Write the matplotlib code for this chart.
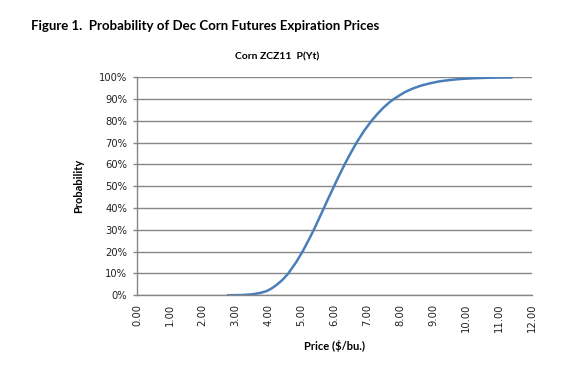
import matplotlib

matplotlib.use("Agg")

import matplotlib.pyplot as plt
from matplotlib.ticker import FuncFormatter

# values
price = [2.74, 3.20, 3.53, 3.75, 3.94, 4.10, 4.25, 4.42, 4.60, 4.85, 5.04,
         5.26, 5.41, 5.61, 5.81, 5.92, 6.10, 6.33, 6.50, 6.68, 6.90, 7.13,
         7.30, 7.49, 7.70, 7.89, 8.15, 8.40, 8.65, 8.91, 9.20, 9.51, 9.85,
         10.22, 10.80, 11.42]
prob = [0.0001, 0.0012, 0.005, 0.011, 0.019, 0.032, 0.048, 0.070, 0.100,
        0.154, 0.202, 0.265, 0.311, 0.376, 0.442, 0.477, 0.535, 0.605,
        0.653, 0.701, 0.753, 0.800, 0.830, 0.860, 0.888, 0.908, 0.932,
        0.949, 0.962, 0.972, 0.981, 0.987, 0.992, 0.995, 0.998, 0.999]

x_ticks = [i * 1.0 for i in range(13)]
y_ticks = [i / 10 for i in range(11)]

grey = "#868686"
line_blue = "#4a7ebb"

fig = plt.figure(figsize=(5.85, 3.84), dpi=100)
ax = fig.add_axes([0.234, 0.231, 0.675, 0.568])

ax.plot(price, prob, color=line_blue, linewidth=1.8, solid_joinstyle="round",
        solid_capstyle="butt")

ax.set_xlim(0, 12)
ax.set_ylim(0, 1)
ax.set_xticks(x_ticks)
ax.set_yticks(y_ticks)
ax.xaxis.set_major_formatter(FuncFormatter(lambda v, _: f"{v:.2f}"))
ax.yaxis.set_major_formatter(FuncFormatter(lambda v, _: f"{v:.0%}"))
ax.tick_params(axis="x", length=0, pad=6, labelrotation=90, labelsize=7.2,
               labelcolor="#222222")
ax.tick_params(axis="y", length=3, width=1, color=grey, pad=4, labelsize=7.2,
               labelcolor="#222222")
for label in ax.get_xticklabels() + ax.get_yticklabels():
    label.set_family("DejaVu Sans")

ax.grid(axis="y", color=grey, linewidth=1)
ax.set_axisbelow(True)
for side in ("top", "right"):
    ax.spines[side].set_visible(False)
for side in ("left", "bottom"):
    ax.spines[side].set_color(grey)
    ax.spines[side].set_linewidth(1)

ax.set_xlabel("Price ($/bu.)", fontsize=8, fontweight="bold", family="Lato",
              labelpad=6)
ax.set_ylabel("Probability", fontsize=8, fontweight="bold", family="Lato",
              labelpad=11)

fig.text(0.053, 0.932, "Figure 1.  Probability of Dec Corn Futures Expiration Prices",
         fontsize=9.5, fontweight="bold", family="Lato", va="center")
fig.text(0.474, 0.851, "Corn ZCZ11  P(Yt)", fontsize=7.5, fontweight="bold",
         family="Lato", ha="center", va="center")

fig.savefig("out.png", dpi=100)
plt.close(fig)
